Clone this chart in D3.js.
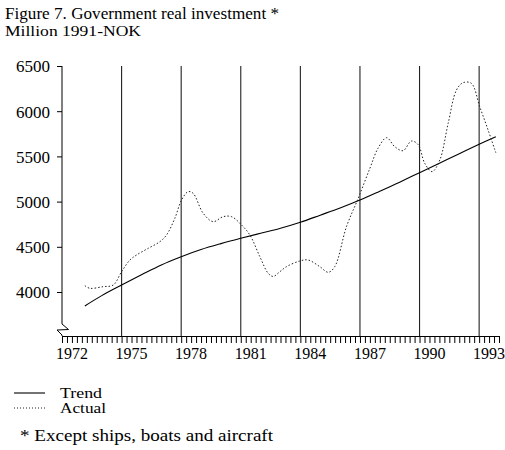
<!DOCTYPE html>
<html>
<head>
<meta charset="utf-8">
<script src="https://cdn.jsdelivr.net/npm/d3@7"></script>
<style>
  html, body { margin: 0; padding: 0; background: #fff; }
  svg { display: block; }
  svg text { font-family: "Liberation Serif", "Times New Roman", serif; fill: #000; }
</style>
</head>
<body>
<svg id="chart" width="505" height="450"></svg>
<script>
// ---- data ----
const title = "Figure 7. Government real investment *";
const subtitle = "Million 1991-NOK";
const footnote = "* Except ships, boats and aircraft";
const seriesNames = ["Trend", "Actual"];

const yTickValues = [4000, 4500, 5000, 5500, 6000, 6500];
const xLabelYears = [1972, 1975, 1978, 1981, 1984, 1987, 1990, 1993];
const gridYears = [1975, 1978, 1981, 1984, 1987, 1990, 1993];

const trendYears = [1973.15, 1974, 1975, 1976, 1977, 1978, 1979, 1980, 1981, 1982, 1983,
                    1984, 1985, 1986, 1987, 1988, 1989, 1990, 1991, 1992, 1993, 1993.84];
const trendValues = [3846, 3960, 4077, 4190, 4300, 4391, 4470, 4535, 4594, 4650, 4705,
                     4771, 4850, 4930, 5018, 5115, 5215, 5320, 5425, 5530, 5634, 5718];

const actualYears = [1973.15, 1973.40, 1974.07, 1974.58, 1975.00, 1975.42, 1975.75, 1976.34,
                     1976.93, 1977.26, 1977.68, 1978.02, 1978.35, 1978.60, 1979.11, 1979.61,
                     1980.11, 1980.54, 1981.04, 1981.46, 1981.96, 1982.38, 1982.63, 1982.97,
                     1983.30, 1983.97, 1984.39, 1984.98, 1985.40, 1985.73, 1986.32, 1986.91,
                     1987.50, 1987.91, 1988.34, 1988.75, 1989.17, 1989.59, 1989.93, 1990.26,
                     1990.63, 1991.02, 1991.44, 1991.86, 1992.19, 1992.61, 1993.03, 1993.45,
                     1993.84];
const actualValues = [4070, 4041, 4059, 4077, 4225, 4354, 4409, 4483,
                      4557, 4630, 4815, 5018, 5110, 5092, 4870, 4778,
                      4833, 4833, 4741, 4630, 4391, 4207, 4172, 4225,
                      4280, 4343, 4354, 4280, 4218, 4280, 4722, 5036,
                      5368, 5590, 5707, 5608, 5563, 5670, 5630, 5424,
                      5331, 5460, 5866, 6235, 6315, 6308, 6050, 5792,
                      5541];

// ---- layout ----
const svg = d3.select("#chart");
const axisY = 336;
const topY = 66;
const serif = "Liberation Serif";

const x = d3.scaleLinear().domain([1972, 1994]).range([62, 499]);
const y = d3.scaleLinear().domain([4000, 6500]).range([292, topY]);

// title
svg.append("text").attr("x", 5).attr("y", 19).attr("font-family", serif)
  .attr("font-size", 17.5).attr("textLength", 274).attr("lengthAdjust", "spacingAndGlyphs")
  .text(title);
svg.append("text").attr("x", 5).attr("y", 36).attr("font-family", serif)
  .attr("font-size", 15.5).attr("textLength", 136).attr("lengthAdjust", "spacingAndGlyphs")
  .text(subtitle);

// vertical grid lines
svg.append("g").selectAll("line").data(gridYears).join("line")
  .attr("x1", d => x(d)).attr("x2", d => x(d))
  .attr("y1", topY).attr("y2", axisY)
  .attr("stroke", "#222").attr("stroke-width", 1.1);

// y axis (with break)
const yAxis = d3.axisLeft(y).tickValues(yTickValues).tickSize(5).tickSizeOuter(0)
  .tickFormat(d3.format("d"));
const gy = svg.append("g").attr("transform", `translate(${x(1972)},0)`).call(yAxis)
  .attr("font-family", serif).attr("font-size", 17);
gy.select(".domain").remove();
gy.selectAll(".tick line").attr("stroke", "#000");
gy.selectAll(".tick text").attr("font-family", serif).attr("font-size", 17)
  .attr("fill", "#000").attr("x", -12).attr("dy", "0.35em");
const x0 = x(1972);
svg.append("path")
  .attr("d", `M${x0},${topY} L${x0},324 L${x0 + 6.5},329.5 L${x0 - 5},330 L${x0},335 L${x0},${axisY}`)
  .attr("fill", "none").attr("stroke", "#000").attr("stroke-width", 1);

// x axis: quarterly ticks
const quarterTicks = d3.range(0, 22 * 4 + 1).map(i => 1972 + i / 4);
const xAxis = d3.axisBottom(x).tickValues(quarterTicks).tickSize(7).tickSizeOuter(0)
  .tickFormat("");
const gx = svg.append("g").attr("transform", `translate(0,${axisY})`).call(xAxis);
gx.select(".domain").attr("stroke", "#000");
gx.selectAll(".tick line").attr("stroke", "#000");

// x labels (centred mid-year)
svg.append("g").selectAll("text").data(xLabelYears).join("text")
  .attr("x", d => x(d + 0.5)).attr("y", 359).attr("font-family", serif)
  .attr("text-anchor", "middle").attr("font-size", 16).text(d => d);

// lines
const line = d3.line().curve(d3.curveCatmullRom.alpha(0.5));
svg.append("path")
  .attr("d", line(trendYears.map((t, i) => [x(t), y(trendValues[i])])))
  .attr("fill", "none").attr("stroke", "#000").attr("stroke-width", 1.1);
svg.append("path")
  .attr("d", line(actualYears.map((t, i) => [x(t), y(actualValues[i])])))
  .attr("fill", "none").attr("stroke", "#222").attr("stroke-width", 1)
  .attr("stroke-dasharray", "1.5,2");

// legend
const lg = svg.append("g");
lg.append("line").attr("x1", 14).attr("x2", 45).attr("y1", 393).attr("y2", 393)
  .attr("stroke", "#000").attr("stroke-width", 1.1);
lg.append("line").attr("x1", 14).attr("x2", 45).attr("y1", 408).attr("y2", 408)
  .attr("stroke", "#222").attr("stroke-width", 1).attr("stroke-dasharray", "1,2");
lg.append("text").attr("x", 60).attr("y", 398).attr("font-family", serif)
  .attr("font-size", 14).attr("textLength", 42).attr("lengthAdjust", "spacingAndGlyphs")
  .text(seriesNames[0]);
lg.append("text").attr("x", 60).attr("y", 413).attr("font-family", serif)
  .attr("font-size", 14).attr("textLength", 46).attr("lengthAdjust", "spacingAndGlyphs")
  .text(seriesNames[1]);

// footnote
svg.append("text").attr("x", 20).attr("y", 441).attr("font-family", serif)
  .attr("font-size", 17).attr("textLength", 253).attr("lengthAdjust", "spacingAndGlyphs")
  .text(footnote);
</script>
</body>
</html>
